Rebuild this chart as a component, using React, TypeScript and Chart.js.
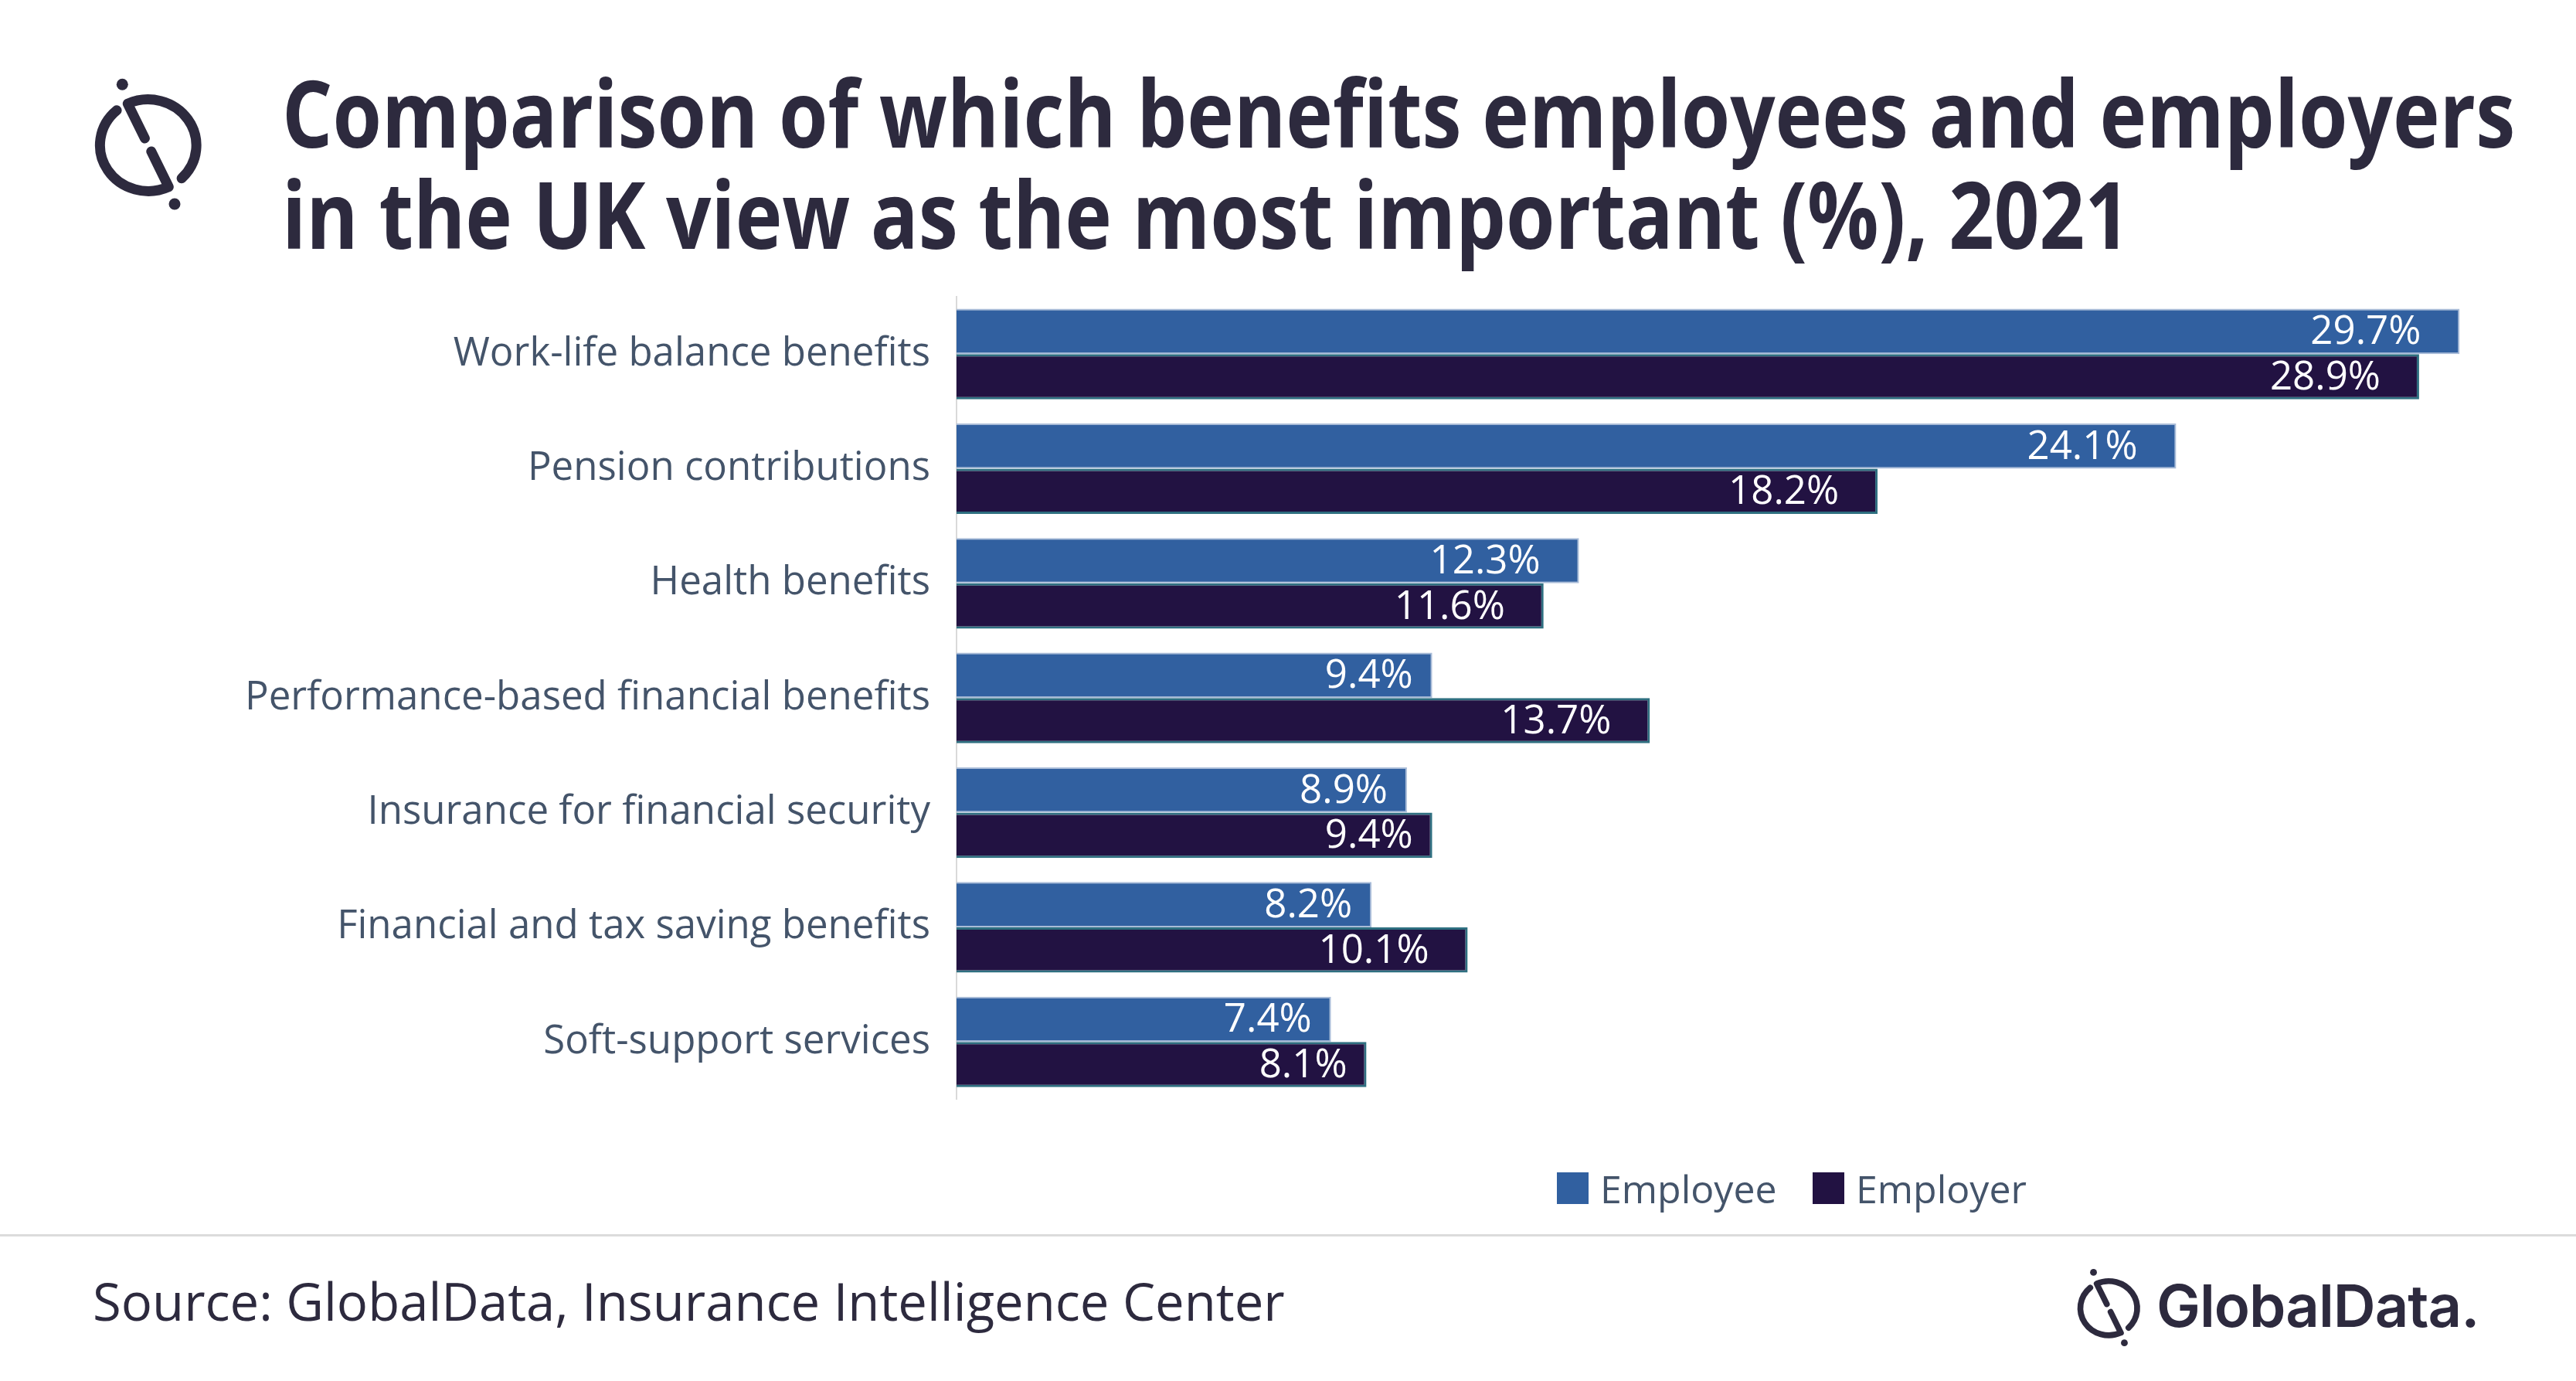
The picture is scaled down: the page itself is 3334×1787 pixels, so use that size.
import React, { useEffect, useRef } from "react";
import { Chart, registerables } from "chart.js";

Chart.register(...registerables);

const categories = [
  "Work-life balance benefits",
  "Pension contributions",
  "Health benefits",
  "Performance-based financial benefits",
  "Insurance for financial security",
  "Financial and tax saving benefits",
  "Soft-support services",
];
const employeeValues = [29.7, 24.1, 12.3, 9.4, 8.9, 8.2, 7.4];
const employerValues = [28.9, 18.2, 11.6, 13.7, 9.4, 10.1, 8.1];
const seriesNames = ["Employee", "Employer"];
const seriesColors = ["#3160a0", "#221242"];
const seriesBorders = ["#a9bcd8", "#2e6f80"];
const titleLines = [
  "Comparison of which benefits employees and employers",
  "in the UK view as the most important (%), 2021",
];
const sourceText = "Source: GlobalData, Insurance Intelligence Center";

const DARK = "#2d2a3e";
const LABEL = "#44546a";

const valueLabels = {
  id: "valueLabels",
  afterDatasetsDraw(chart: any) {
    const ctx = chart.ctx;
    ctx.save();
    ctx.fillStyle = "#ffffff";
    ctx.font = "51px 'Open Sans'";
    ctx.textAlign = "right";
    ctx.textBaseline = "middle";
    chart.data.datasets.forEach((ds: any, i: number) => {
      const meta = chart.getDatasetMeta(i);
      meta.data.forEach((el: any, j: number) => {
        const txt = ds.data[j].toFixed(1) + "%";
        const gap = (txt.length - 3) * 25;
        ctx.fillText(txt, el.x - gap, el.y + 2);
      });
    });
    ctx.restore();
  },
};

function Icon({ left, top, scale }: { left: number; top: number; scale: number }) {
  return (
    <svg
      style={{ position: "absolute", left, top }}
      width={155 * scale}
      height={185 * scale}
      viewBox="115 95 155 185"
    >
      <g fill="none" stroke={DARK} strokeWidth={13} strokeLinecap="round" strokeLinejoin="round">
        <path d="M187.4 179 L165.3 134.1 A62.5 59.5 0 0 1 235.1 230.8" />
        <path d="M195.8 196 L218.3 241.8 A62.5 59.5 0 0 1 151.1 142.8" />
      </g>
      <circle cx={158.3} cy={109.3} r={7.5} fill={DARK} />
      <circle cx={226} cy={264} r={7.5} fill={DARK} />
    </svg>
  );
}

export default function App() {
  const canvasRef = useRef<HTMLCanvasElement>(null);

  useEffect(() => {
    document.body.style.margin = "0";
    const chart = new Chart(canvasRef.current as HTMLCanvasElement, {
      type: "bar",
      data: {
        labels: categories,
        datasets: [
          {
            label: seriesNames[0],
            data: employeeValues,
            backgroundColor: seriesColors[0],
            borderColor: seriesBorders[0],
            borderWidth: 2,
            categoryPercentage: 0.79,
            barPercentage: 1.0,
          },
          {
            label: seriesNames[1],
            data: employerValues,
            backgroundColor: seriesColors[1],
            borderColor: seriesBorders[1],
            borderWidth: 3,
            categoryPercentage: 0.79,
            barPercentage: 1.0,
          },
        ],
      },
      options: {
        indexAxis: "y",
        animation: false,
        responsive: true,
        maintainAspectRatio: false,
        layout: { padding: { left: 0, right: 131, top: 384, bottom: 0 } },
        plugins: {
          legend: { display: false },
          tooltip: { enabled: false },
          title: { display: false },
        },
        scales: {
          x: {
            display: false,
            min: 0,
            max: 30,
            grid: { display: false },
          },
          y: {
            afterFit: (s: any) => {
              s.width = 1238;
            },
            grid: { display: false, drawTicks: false },
            border: { display: true, color: "#d9d9d9", width: 2 },
            ticks: {
              color: LABEL,
              padding: 34,
              font: { family: "'Open Sans'", size: 51, lineHeight: 1.2 },
            },
          },
        },
      } as any,
      plugins: [valueLabels],
    });
    return () => chart.destroy();
  }, []);

  return (
    <div
      style={{
        position: "fixed",
        left: 0,
        top: 0,
        width: 3334,
        height: 1787,
        background: "#ffffff",
        overflow: "hidden",
        fontFamily: "'Open Sans'",
      }}
    >
      <Icon left={115} top={95} scale={1} />
      {titleLines.map((t, i) => (
        <div
          key={i}
          style={{
            position: "absolute",
            left: 365,
            top: 85 + i * 131,
            fontSize: 120,
            lineHeight: "120px",
            fontWeight: 700,
            color: DARK,
            whiteSpace: "nowrap",
            transform: "scaleX(0.855)",
            transformOrigin: "0 0",
          }}
        >
          {t}
        </div>
      ))}
      <div style={{ position: "absolute", left: 0, top: 0, width: 3334, height: 1487 }}>
        <canvas ref={canvasRef} />
      </div>
      {seriesNames.map((n, i) => (
        <div key={n} style={{ position: "absolute", left: i === 0 ? 2015 : 2346, top: 1517 }}>
          <div
            style={{
              position: "absolute",
              left: 0,
              top: 0,
              width: 41,
              height: 41,
              background: seriesColors[i],
            }}
          />
          <div
            style={{
              position: "absolute",
              left: 56,
              top: -4,
              fontSize: 50,
              lineHeight: "50px",
              color: LABEL,
              whiteSpace: "nowrap",
            }}
          >
            {n}
          </div>
        </div>
      ))}
      <div
        style={{
          position: "absolute",
          left: 0,
          top: 1597,
          width: 3334,
          height: 3,
          background: "#dcdcdc",
        }}
      />
      <div
        style={{
          position: "absolute",
          left: 120,
          top: 1650,
          fontSize: 67,
          lineHeight: "67px",
          color: DARK,
          whiteSpace: "nowrap",
        }}
      >
        {sourceText}
      </div>
      <Icon left={2683.5} top={1638} scale={0.59} />
      <div
        style={{
          position: "absolute",
          left: 2791,
          top: 1651,
          fontSize: 76,
          lineHeight: "76px",
          fontFamily: "Inter",
          fontWeight: 600,
          color: DARK,
          whiteSpace: "nowrap",
          letterSpacing: -1,
        }}
      >
        GlobalData.
      </div>
    </div>
  );
}
